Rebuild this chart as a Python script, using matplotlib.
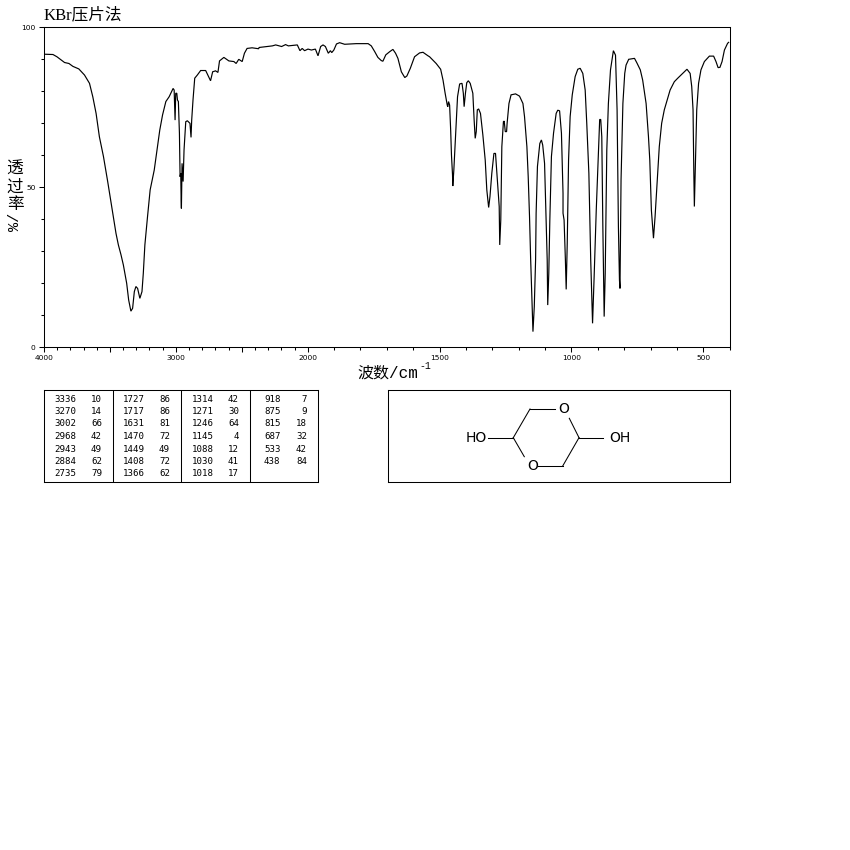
import numpy as np
import matplotlib
matplotlib.use("Agg")
import matplotlib.pyplot as plt
from matplotlib.ticker import FixedLocator, NullFormatter, FixedFormatter

wavenumber = [4000,3932,3902,3844,3811,3781,3736,3693,3655,3630,3605,3580,3549,3517,3484,3454,3436,3416,3398,3373,3358,3341,3328,3315,3303,3290,3273,3257,3247,3235,3215,3195,3164,3139,3122,3101,3076,3051,3021,3013,3006,3001,2993,2988,2981,2973,2968,2963,2960,2958,2953,2945,2938,2925,2913,2893,2885,2880,2870,2857,2837,2812,2774,2754,2737,2721,2699,2681,2669,2636,2598,2560,2543,2523,2497,2480,2460,2422,2372,
 2369,2268,2243,2198,2168,2147,2079,2059,2042,2024,1999,1986,1971,1961,1951,1942,1933,1922,1914,1909,1901,1891,1879,1860,1816,1771,1759,1746,1734,1721,1715,1704,1689,1677,1667,1658,1645,1632,1624,1611,1595,1576,1563,1544,
 1538,1513,1496,1487,1479,1471,1469,1466,1462,1458,1455,1451,1450,1446,1439,1432,1424,1415,1410,1407,1402,1397,1391,1384,1374,1369,1365,1361,1357,1352,1345,1336,1327,1321,1314,1309,1302,1294,1288,1282,1274,1272,1268,1264,1258,1255,1251,1246,1244,1237,1229,1212,1197,1184,1178,1169,1164,1159,1155,1150,1146,1141,1136,1134,1129,1120,1114,1109,1102,1096,1092,1090,1086,1082,1076,1068,1058,1052,1045,1038,1032,1032,1028,1023,1020,1016,1011,1005,997,986,976,967,957,948,942,934,927,920,914,906,899,893,889,885,881,876,872,866,860,852,841,833,827,822,818,816,812,805,798,793,783,761,752,739,730,717,708,703,697,689,683,674,667,658,648,635,626,610,597,578,562,550,544,539,536,534,531,525,518,509,496,477,461,452,444,437,429,420,408,404]
transmittance = [91.5,91.4,90.7,88.9,88.6,87.7,86.9,85.0,82.4,78.2,73.0,65.7,59.5,51.7,43.3,35.5,31.9,28.8,25.6,19.9,14.7,11.2,12.1,17.3,18.9,18.3,15.2,17.3,23.0,31.9,40.7,49.1,55.3,62.6,67.8,72.5,76.7,78.2,80.8,80.3,70.9,79.3,79.3,77.2,76.7,66.8,53.2,54.3,45.9,43.3,57.4,51.7,61.6,70.4,70.7,69.9,65.5,70.9,77.2,84.0,85.0,86.4,86.4,84.7,83.2,86.0,86.3,85.8,89.4,90.5,89.4,89.2,88.6,89.9,89.2,91.8,93.3,93.5,93.2,
 93.6,94.1,94.4,93.9,94.5,94.1,94.4,92.6,93.3,92.6,93.1,92.8,93.1,91.0,93.9,94.4,93.9,91.8,92.6,92.0,92.8,94.7,95.1,94.6,94.8,94.8,94.1,92.3,90.5,89.5,89.3,91.3,92.3,93.0,91.8,90.2,86.0,84.2,84.7,87.1,90.7,91.9,92.1,91.0,
 90.7,88.6,86.8,83.4,79.3,75.6,75.1,76.7,75.6,67.8,60.0,53.8,50.3,55.3,66.8,78.2,82.2,82.4,79.3,75.1,79.3,82.6,83.2,82.4,79.3,70.9,65.2,67.3,74.1,74.4,73.0,66.3,58.4,49.1,43.6,47.0,54.3,60.5,60.5,53.2,43.9,31.9,39.7,62.6,70.4,70.6,67.3,67.3,69.9,76.1,78.8,79.1,78.4,76.1,72.0,62.6,53.2,40.7,28.2,14.7,4.8,12.6,27.2,41.8,56.4,63.6,64.7,63.1,57.4,39.7,27.2,13.1,23.0,39.7,59.5,66.8,73.0,74.0,73.8,66.8,48.0,41.8,39.7,27.2,18.0,32.4,58.4,72.0,78.8,84.5,86.8,87.1,85.5,80.3,69.9,54.3,27.2,7.4,22.0,42.8,58.4,71.1,71.1,65.7,37.6,9.5,23.0,61.6,76.1,86.6,92.6,91.2,74.1,37.6,20.9,18.3,52.2,76.1,85.5,88.1,89.9,90.2,88.8,86.6,83.4,76.1,65.7,58.4,42.8,34.0,40.7,53.2,62.6,69.9,74.1,77.7,80.3,82.9,84.0,85.5,86.8,85.5,81.4,74.1,54.3,43.9,54.3,74.1,82.4,86.6,89.2,90.9,90.9,89.2,87.3,87.4,89.2,92.8,94.9,95.2]

peak_wn = [[3336,3270,3002,2968,2943,2884,2735],
           [1727,1717,1631,1470,1449,1408,1366],
           [1314,1271,1246,1145,1088,1030,1018],
           [918,875,815,687,533,438]]
peak_t  = [[10,14,66,42,49,62,79],
           [86,86,81,72,49,72,62],
           [42,30,64,4,12,41,17],
           [7,9,18,32,42,84]]

major_ticks = [4000,3500,3000,2500,2000,1500,1000,500]
major_labels = ["4000","","3000","","2000","1500","1000","500"]
minor_ticks = list(range(3900,2000,-100)) + list(range(1900,399,-100))
y_major = [0,50,100]
y_minor = [10,20,30,40,60,70,80,90]

W = H = 850
def box(x0, y0, x1, y1):
    return [x0/W, 1-y1/H, (x1-x0)/W, (y1-y0)/H]

fig = plt.figure(figsize=(8.5,8.5), dpi=100, facecolor="white")
LW = 0.75

# spectrum, with the scale halved above 2000 cm-1
ax = fig.add_axes(box(44,27,729.7,347))
fwd = lambda w: np.interp(w,[0,2000,4000],[0,2000,3000])
inv = lambda p: np.interp(p,[0,2000,3000],[0,2000,4000])
ax.set_xscale("function", functions=(fwd,inv))
ax.set_xlim(4000,400)
ax.set_ylim(0,100)
ax.plot(wavenumber, transmittance, color="black", lw=0.85, solid_joinstyle="miter")
ax.xaxis.set_major_locator(FixedLocator(major_ticks))
ax.xaxis.set_major_formatter(FixedFormatter(major_labels))
ax.xaxis.set_minor_locator(FixedLocator(minor_ticks))
ax.xaxis.set_minor_formatter(NullFormatter())
ax.yaxis.set_major_locator(FixedLocator(y_major))
ax.yaxis.set_minor_locator(FixedLocator(y_minor))
ax.yaxis.set_minor_formatter(NullFormatter())
ax.tick_params(which="major", length=3.8, width=LW, labelsize=5.4, pad=2.2)
ax.tick_params(which="minor", length=2, width=LW)
for s in ax.spines.values():
    s.set_linewidth(LW)

cjk_serif = ["Liberation Serif","Noto Sans CJK SC"]
cjk_mono = ["Liberation Mono","Noto Sans CJK SC"]
px = lambda x,y: (x/W, 1-y/H)
fig.text(*px(44,15), "KBr压片法", family=cjk_serif, fontsize=12, va="center", ha="left")
for ch,y in zip("透过率",[170,188,205]):
    fig.text(*px(15,y), ch, family=cjk_serif, fontsize=12, va="center", ha="center")
fig.text(*px(15,222), "%/", family=cjk_mono, fontsize=11, rotation=90, va="center", ha="center")
fig.text(*px(357,373), "波数/cm", family=cjk_mono, fontsize=11.5, va="center", ha="left")
fig.text(*px(419,366), "-1", family="Liberation Mono", fontsize=7, va="center", ha="left")

# peak table
tb = fig.add_axes(box(44,390,318,482))
tb.set_xlim(44,318); tb.set_ylim(482,390)
tb.set_xticks([]); tb.set_yticks([])
for s in tb.spines.values():
    s.set_linewidth(LW)
for x in [113,181,250]:
    tb.axvline(x, color="black", lw=LW)
row_y = [400,412,424,436.5,449,461.5,474]
wn_x = [54,123,192,264]
t_x = [102,170,239,307]
for c in range(4):
    for r,(w,t) in enumerate(zip(peak_wn[c],peak_t[c])):
        tb.text(wn_x[c],row_y[r],str(w),family="DejaVu Sans Mono",fontsize=6.6,ha="left",va="center")
        tb.text(t_x[c],row_y[r],str(t),family="DejaVu Sans Mono",fontsize=6.6,ha="right",va="center")

# structure
mol = fig.add_axes(box(388,390,729.7,482))
mol.set_xlim(388,729.7); mol.set_ylim(482,390)
mol.set_xticks([]); mol.set_yticks([])
for s in mol.spines.values():
    s.set_linewidth(LW)
bonds = [((488,437.7),(513.3,437.7)),((513.3,437.7),(530,409)),((530,409),(555,409)),
         ((569.3,418.3),(579,437.7)),((579,437.7),(603.3,437.7)),((579,437.7),(562.7,466)),
         ((562.7,466),(538.3,466)),((524.3,456.7),(513.3,437.7))]
for a,b in bonds:
    mol.plot([a[0],b[0]],[a[1],b[1]],color="black",lw=LW)
for x,y,s in [(476.5,437.7,"HO"),(620,437.7,"OH"),(564,409,"O"),(532.5,466,"O")]:
    mol.text(x,y,s,fontsize=10,family="DejaVu Sans",ha="center",va="center")

fig.savefig("out.png", dpi=100, facecolor="white")
